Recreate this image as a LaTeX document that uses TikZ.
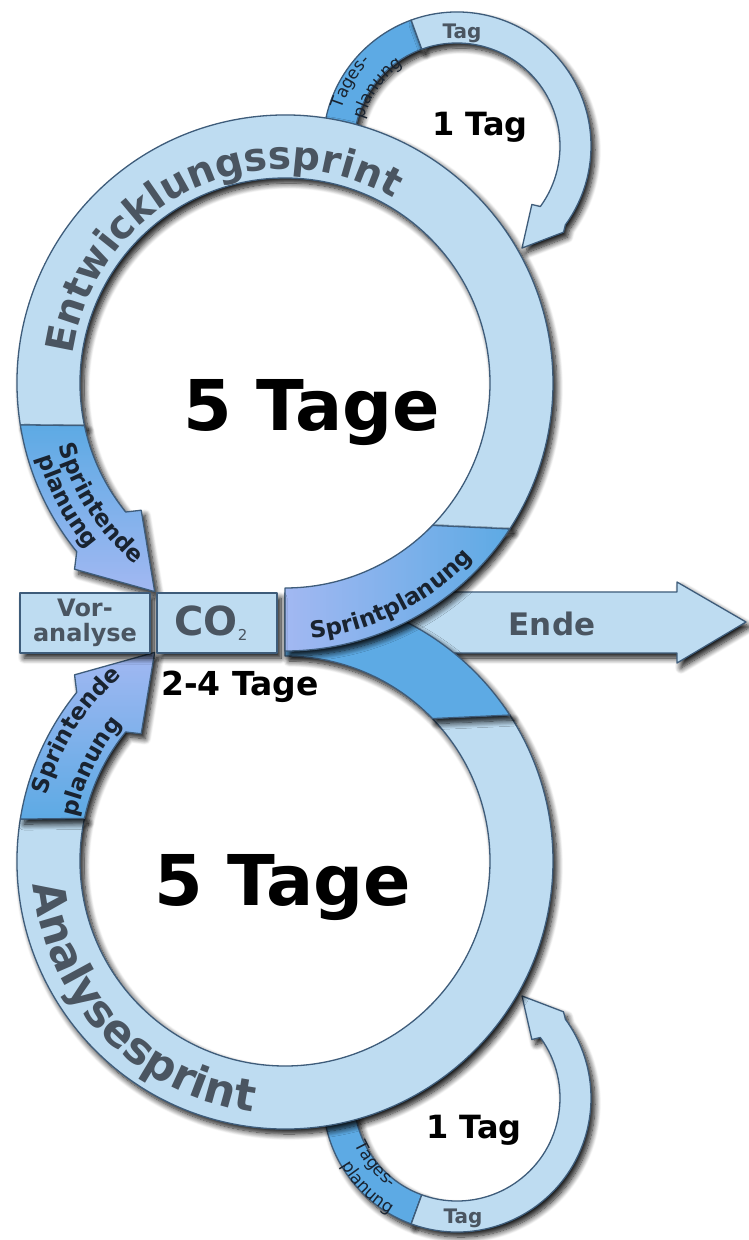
\documentclass[tikz,border=0pt]{standalone}
\usepackage{fontspec}
\setmainfont{DejaVu Sans}
\usetikzlibrary{calc,decorations.text,shadows.blur}

\definecolor{ringfill}{RGB}{190,220,241}
\definecolor{ringline}{RGB}{62,92,122}
\definecolor{bandblau}{RGB}{93,170,228}
\definecolor{bandlila}{RGB}{162,184,242}
\definecolor{schrift}{RGB}{74,85,97}
\definecolor{dunkel}{RGB}{25,35,48}

\tikzset{
  schatten/.style={blur shadow={shadow xshift=4pt,shadow yshift=-5pt,shadow blur radius=6pt,shadow blur steps=10,shadow opacity=95}},
  ring/.style={fill=ringfill,draw=ringline,line width=1.3pt,line join=round,schatten},
  band/.style={draw=ringline,line width=1.3pt,line join=round,schatten},
  kasten/.style={ring,minimum width=#1,minimum height=60,inner sep=0pt,align=center,text=schrift},
  gross/.style={font=\fontsize{70}{70}\selectfont\bfseries,anchor=base},
  mittel/.style={font=\fontsize{32}{32}\selectfont\bfseries,anchor=base},
}

% Schrift entlang eines Kreisbogens: {Mitte}{Radius}{Start}{Ende}{Format}{Farbe}{Text}
\newcommand{\bogenschrift}[7]{%
  \path[shift={#1},decorate,decoration={text along path,text align=center,
    text color=#6,text={|#5|#7}}]
    (#3:#2) arc[start angle=#3,end angle=#4,radius=#2];}

\begin{document}
\begin{tikzpicture}[x=1pt,y=-1pt]
\useasboundingbox (0,0) rectangle (748,1240);

%obere Haelfte und ihr Spiegelbild an der Mittellinie y=622
\foreach \spiegel/\oben/\unten in {1/bandblau/bandlila,-1/bandlila/bandblau}{
  \pgfmathsetmacro{\versatz}{(1-\spiegel)*622}
  \begin{scope}[shift={(0,\versatz)},yscale=\spiegel]
    %Tagesschleife
    \begin{scope}[shift={(457,146)}]
      \path[band,fill=bandblau] (190:134) arc[start angle=190,end angle=250,radius=134]
        -- (250:103) arc[start angle=250,end angle=190,radius=103] -- cycle;
      \path[ring] (250:134) arc[start angle=250,end angle=396,radius=134]
        -- (399:137) -- (417.5:121) -- (398:95) -- (396:103)
        arc[start angle=396,end angle=250,radius=103] -- cycle;
    \end{scope}
    %Sprintring
    \begin{scope}[shift={(285,383)}]
      \path[ring] (171:268) arc[start angle=171,end angle=393,radius=268]
        -- (404:205) arc[start angle=404,end angle=168,radius=205] -- cycle;
      \path[band,top color=\oben,bottom color=\unten] (171:268) arc[start angle=171,end angle=141,radius=268]
        -- (138.5:281) -- (122:246) -- (138.5:192) -- (141:205)
        arc[start angle=141,end angle=168,radius=205] -- cycle;
    \end{scope}
  \end{scope}
}

%Ende-Pfeil
\path[ring] (400,592) -- (677,592) -- (677,582) -- (746,622) -- (677,663) -- (677,653) -- (400,653) -- cycle;
\node[font=\fontsize{31}{31}\selectfont\bfseries,text=schrift,anchor=base] (ende) at (552,635) {Ende};

%Sprintplanung: unterer Zweig, dann oberer
\begin{scope}[shift={(0,1244)},yscale=-1]
  \path[band,shift={(285,383)},fill=bandblau]
    (33:268) arc[start angle=33,end angle=90,radius=268]
    -- (90:205) arc[start angle=90,end angle=44,radius=205] -- cycle;
\end{scope}
\path[band,shift={(285,383)},left color=bandlila,middle color=bandblau,right color=bandblau]
  (33:268) arc[start angle=33,end angle=90,radius=268]
  -- (90:205) arc[start angle=90,end angle=44,radius=205] -- cycle;

%Kaesten
\node[kasten=130,font=\fontsize{24}{25}\selectfont\bfseries] (vorana) at (85,623) {Vor-\\analyse};
\node[kasten=120,font=\fontsize{40}{40}\selectfont\bfseries] (co) at (217,623)
  {CO\raisebox{-5pt}{\fontsize{15}{15}\selectfont\mdseries 2}\kern12pt};

%Dauern
\node[gross] (fuenfoben) at (312,430) {5 Tage};
\node[gross] (fuenfunten) at (283,905) {5 Tage};
\node[mittel] (tagoben) at (480,135) {1 Tag};
\node[mittel] (tagunten) at (474,1138) {1 Tag};
\node[mittel,font=\fontsize{33}{33}\selectfont\bfseries] (dauer) at (240,695) {2-4 Tage};
\node[font=\fontsize{20}{20}\selectfont\bfseries,text=schrift,anchor=base] (schleifeoben) at (462,38) {Tag};
\node[font=\fontsize{20}{20}\selectfont\bfseries,text=schrift,anchor=base] (schleifeunten) at (463,1223) {Tag};

%Bogenschriften
\bogenschrift{(285,383)}{214}{164}{324}{\fontsize{39}{39}\selectfont\bfseries}{schrift}{Entwicklungssprint}
\bogenschrift{(285,861)}{253}{216}{56}{\fontsize{44}{44}\selectfont\bfseries}{schrift}{Analysesprint}
\bogenschrift{(285,383)}{257}{103.6}{23.6}{\fontsize{23}{23}\selectfont\bfseries}{dunkel}{Sprintplanung}
\bogenschrift{(285,383)}{235}{187}{107}{\fontsize{23}{23}\selectfont\bfseries}{dunkel}{Sprintende}
\bogenschrift{(285,383)}{258}{191.5}{111.5}{\fontsize{23}{23}\selectfont\bfseries}{dunkel}{planung}
\bogenschrift{(285,861)}{247}{172}{252}{\fontsize{23}{23}\selectfont\bfseries}{dunkel}{Sprintende}
\bogenschrift{(285,861)}{213}{166}{246}{\fontsize{23}{23}\selectfont\bfseries}{dunkel}{planung}
\bogenschrift{(457,146)}{121}{171}{251}{\fontsize{17}{17}\selectfont}{dunkel}{Tages-}
\bogenschrift{(457,146)}{97}{176}{256}{\fontsize{17}{17}\selectfont}{dunkel}{planung}
\bogenschrift{(457,1098)}{112}{181}{101}{\fontsize{17}{17}\selectfont}{dunkel}{Tages-}
\bogenschrift{(457,1098)}{134}{175}{95}{\fontsize{17}{17}\selectfont}{dunkel}{planung}
\end{tikzpicture}
\end{document}
